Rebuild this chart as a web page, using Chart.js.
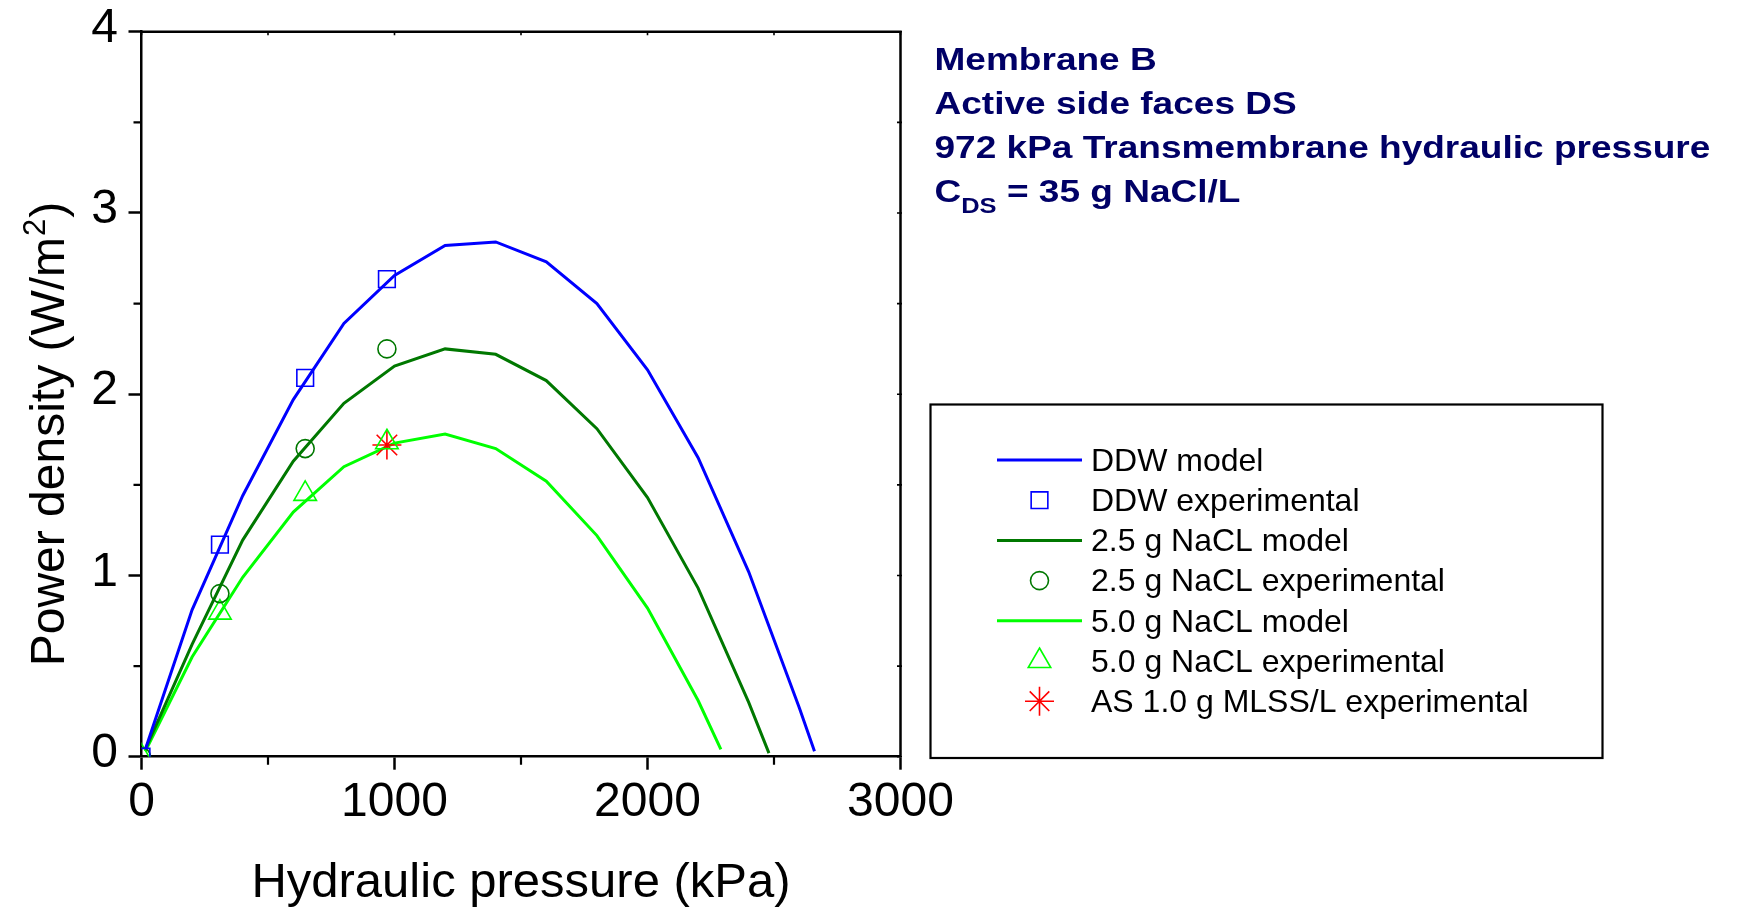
<!DOCTYPE html>
<html>
<head>
<meta charset="utf-8">
<title>Power density vs hydraulic pressure — Membrane B</title>
<script src="https://cdn.jsdelivr.net/npm/chart.js@4/dist/chart.umd.min.js"></script>
<style>
  html, body { margin: 0; padding: 0; background: #ffffff; }
  #wrap { width: 1737px; height: 908px; position: relative; }
</style>
</head>
<body>
<div id="wrap"><canvas id="chart"></canvas></div>
<script>
const FONT = '"Liberation Sans", Arial, Helvetica, sans-serif';

// ---- Model curves: hydraulic pressure (kPa) -> power density (W/m2) ----
const ddwModelP    = [15, 200, 400, 600, 800, 1000, 1200, 1400, 1600, 1800, 2000, 2200, 2400, 2600, 2660];
const ddwModel     = [0.04, 0.81, 1.44, 1.97, 2.39, 2.655, 2.82, 2.84, 2.73, 2.50, 2.135, 1.65, 1.02, 0.27, 0.03];

const nacl25ModelP = [15, 200, 400, 600, 800, 1000, 1200, 1400, 1600, 1800, 2000, 2200, 2400, 2480];
const nacl25Model  = [0.04, 0.62, 1.195, 1.63, 1.95, 2.155, 2.25, 2.22, 2.075, 1.81, 1.43, 0.93, 0.30, 0.02];

const nacl50ModelP = [15, 200, 400, 600, 800, 1000, 1200, 1400, 1600, 1800, 2000, 2200, 2290];
const nacl50Model  = [0.03, 0.55, 0.99, 1.35, 1.60, 1.73, 1.78, 1.70, 1.52, 1.22, 0.82, 0.31, 0.04];

// ---- Experimental points ----
const expPressure  = [0, 310, 647, 970];
const ddwExp       = [0, 1.17, 2.09, 2.635];
const nacl25Exp    = [0, 0.90, 1.70, 2.25];
const nacl50Exp    = [0, 0.795, 1.45, 1.735];
const asPressure   = [970];
const asExp        = [1.72];

// ---- Axes ----
const xTicks       = [0, 1000, 2000, 3000];
const xTickLabels  = ['0', '1000', '2000', '3000'];
const xMinorTicks  = [500, 1500, 2500];
const yTicks       = [0, 1, 2, 3, 4];
const yTickLabels  = ['0', '1', '2', '3', '4'];
const yMinorTicks  = [0.5, 1.5, 2.5, 3.5];
const xTitle       = 'Hydraulic pressure (kPa)';
const yTitleMain   = 'Power density (W/m';
const yTitleSup    = '2';
const yTitleEnd    = ')';

// ---- Conditions text ----
const infoLines    = ['Membrane B', 'Active side faces DS', '972 kPa Transmembrane hydraulic pressure'];
const concSymbol   = 'C';
const concSub      = 'DS';
const concRest     = ' = 35 g NaCl/L';

const BLUE = '#0000ff', DKGREEN = '#007800', LTGREEN = '#00ff00', RED = '#ff0000';

const toXY = (xs, ys) => xs.map((x, i) => ({ x, y: ys[i] }));

const modelLine = (label, xs, ys, color) => ({
  label, data: toXY(xs, ys), showLine: true, borderColor: color, backgroundColor: color,
  borderWidth: 3, pointRadius: 0, pointHoverRadius: 0, tension: 0, order: 5
});
const expPoints = (label, xs, ys, color, style, radius) => ({
  label, data: toXY(xs, ys), showLine: false, borderColor: color,
  backgroundColor: 'rgba(0,0,0,0)', pointStyle: style, pointRadius: radius,
  pointHoverRadius: radius, pointBorderWidth: 1.6, clip: 0, order: 1
});

const datasets = [
  modelLine('DDW model', ddwModelP, ddwModel, BLUE),
  expPoints('DDW experimental', expPressure, ddwExp, BLUE, 'rect', 11.8),
  modelLine('2.5 g NaCL model', nacl25ModelP, nacl25Model, DKGREEN),
  expPoints('2.5 g NaCL experimental', expPressure, nacl25Exp, DKGREEN, 'circle', 9),
  modelLine('5.0 g NaCL model', nacl50ModelP, nacl50Model, LTGREEN),
  expPoints('5.0 g NaCL experimental', expPressure, nacl50Exp, LTGREEN, 'triangle', 13),
  expPoints('AS 1.0 g MLSS/L experimental', asPressure, asExp, RED, 'star', 14.5)
];

function markerPath(ctx, style, r, x, y) {
  ctx.beginPath();
  if (style === 'rect') {
    const s = Math.SQRT1_2 * r;
    ctx.rect(x - s, y - s, 2 * s, 2 * s);
  } else if (style === 'circle') {
    ctx.arc(x, y, r, 0, Math.PI * 2);
  } else if (style === 'triangle') {
    for (let k = 0; k < 3; k++) {
      const a = k * 2 * Math.PI / 3;
      const px = x + Math.sin(a) * r, py = y - Math.cos(a) * r;
      k === 0 ? ctx.moveTo(px, py) : ctx.lineTo(px, py);
    }
    ctx.closePath();
  } else if (style === 'star') {
    for (let k = 0; k < 4; k++) {
      const a = k * Math.PI / 4;
      const ext = (k % 2) ? Math.SQRT1_2 * r * 1.35 : r;
      const dx = Math.cos(a) * ext, dy = Math.sin(a) * ext;
      ctx.moveTo(x - dx, y - dy);
      ctx.lineTo(x + dx, y + dy);
    }
  }
  ctx.stroke();
}

// Frame, minor ticks, inner ticks on the top/right edges, axis titles
const framePlugin = {
  id: 'frame',
  afterDraw(chart) {
    const { ctx, chartArea: a, scales: { x, y } } = chart;
    ctx.save();
    ctx.strokeStyle = '#000';
    ctx.lineWidth = 2.5;
    ctx.beginPath();
    ctx.moveTo(a.left, a.top); ctx.lineTo(a.right, a.top); ctx.lineTo(a.right, a.bottom);
    ctx.stroke();
    ctx.lineWidth = 2.2;
    ctx.beginPath();
    xMinorTicks.forEach(v => { const px = x.getPixelForValue(v); ctx.moveTo(px, a.bottom); ctx.lineTo(px, a.bottom + 8); });
    yMinorTicks.forEach(v => { const py = y.getPixelForValue(v); ctx.moveTo(a.left - 8, py); ctx.lineTo(a.left, py); });
    ctx.stroke();
    ctx.lineWidth = 1.6;
    ctx.beginPath();
    xMinorTicks.concat(xTicks).forEach(v => { const px = x.getPixelForValue(v); ctx.moveTo(px, a.top); ctx.lineTo(px, a.top + 3.5); });
    yMinorTicks.concat(yTicks).forEach(v => { const py = y.getPixelForValue(v); ctx.moveTo(a.right - 3.5, py); ctx.lineTo(a.right + 1.5, py); });
    ctx.stroke();

    ctx.fillStyle = '#000';
    ctx.font = '49px ' + FONT;
    ctx.textAlign = 'center';
    ctx.textBaseline = 'alphabetic';
    ctx.fillText(xTitle, (a.left + a.right) / 2, 897);

    ctx.save();
    ctx.translate(63.5, 435);
    ctx.rotate(-Math.PI / 2);
    ctx.textAlign = 'left';
    ctx.font = '48px ' + FONT;
    const w1 = ctx.measureText(yTitleMain).width;
    const w3 = ctx.measureText(yTitleEnd).width;
    ctx.font = '31px ' + FONT;
    const w2 = ctx.measureText(yTitleSup).width;
    const sx = -(w1 + w2 + w3) / 2;
    ctx.font = '48px ' + FONT;
    ctx.fillText(yTitleMain, sx, 0);
    ctx.font = '31px ' + FONT;
    ctx.fillText(yTitleSup, sx + w1 + 1, -19);
    ctx.font = '48px ' + FONT;
    ctx.fillText(yTitleEnd, sx + w1 + w2 + 2, 0);
    ctx.restore();
    ctx.restore();
  }
};

// Conditions text block and boxed legend on the right
const sidePlugin = {
  id: 'side',
  afterDraw(chart) {
    const { ctx } = chart;
    ctx.save();
    ctx.fillStyle = '#000066';
    ctx.textAlign = 'left';
    ctx.textBaseline = 'alphabetic';
    ctx.save();
    ctx.translate(934.5, 0);
    ctx.scale(1.157, 1);
    ctx.font = 'bold 32px ' + FONT;
    const baselines = [69.5, 113.5, 158];
    infoLines.forEach((t, i) => ctx.fillText(t, 0, baselines[i]));
    let cx = 0;
    ctx.fillText(concSymbol, cx, 202);
    cx += ctx.measureText(concSymbol).width;
    ctx.font = 'bold 22px ' + FONT;
    ctx.fillText(concSub, cx, 213);
    cx += ctx.measureText(concSub).width;
    ctx.font = 'bold 32px ' + FONT;
    ctx.fillText(concRest, cx, 202);
    ctx.restore();

    ctx.strokeStyle = '#000';
    ctx.lineWidth = 2.2;
    ctx.strokeRect(930.5, 404.5, 672, 353.5);
    const rowH = 40.2, firstRow = 460;
    const lineX0 = 997, lineX1 = 1082, markX = 1039.5, textX = 1091;
    ctx.font = '32px ' + FONT;
    chart.data.datasets.forEach((ds, i) => {
      const cy = firstRow + rowH * i;
      ctx.strokeStyle = ds.borderColor;
      if (ds.showLine) {
        ctx.lineWidth = ds.borderWidth;
        ctx.beginPath(); ctx.moveTo(lineX0, cy); ctx.lineTo(lineX1, cy); ctx.stroke();
      } else {
        ctx.lineWidth = ds.pointBorderWidth;
        markerPath(ctx, ds.pointStyle, ds.pointRadius, markX, cy);
      }
      ctx.fillStyle = '#000';
      ctx.fillText(ds.label, textX, cy + 10.7);
    });
    ctx.restore();
  }
};

new Chart(document.getElementById('chart'), {
  type: 'scatter',
  data: { datasets },
  options: {
    responsive: true,
    maintainAspectRatio: false,
    animation: false,
    events: [],
    layout: { padding: { top: 31.7, right: 836.5, bottom: 0, left: 0 } },
    plugins: { legend: { display: false }, tooltip: { enabled: false }, title: { display: false } },
    scales: {
      x: {
        type: 'linear', min: 0, max: 3000,
        afterBuildTicks: s => { s.ticks = xTicks.map(v => ({ value: v })); },
        afterFit: s => { s.height = 908 - 756.7; },
        ticks: {
          font: { family: FONT, size: 48 }, color: '#000', padding: 4.5,
          maxRotation: 0, autoSkip: false,
          callback: v => xTickLabels[xTicks.indexOf(v)]
        },
        grid: { drawOnChartArea: false, tickLength: 13, tickWidth: 2.5, color: '#000' },
        border: { color: '#000', width: 2.5 }
      },
      y: {
        type: 'linear', min: 0, max: 4,
        afterBuildTicks: s => { s.ticks = yTicks.map(v => ({ value: v })); },
        afterFit: s => { s.width = 141.5; },
        ticks: {
          font: { family: FONT, size: 48, lineHeight: 0.8 }, color: '#000', padding: 10.5, labelOffset: -3,
          autoSkip: false,
          callback: v => yTickLabels[yTicks.indexOf(v)]
        },
        grid: { drawOnChartArea: false, tickLength: 13, tickWidth: 2.5, color: '#000' },
        border: { color: '#000', width: 2.5 }
      }
    }
  },
  plugins: [framePlugin, sidePlugin]
});
</script>
</body>
</html>
